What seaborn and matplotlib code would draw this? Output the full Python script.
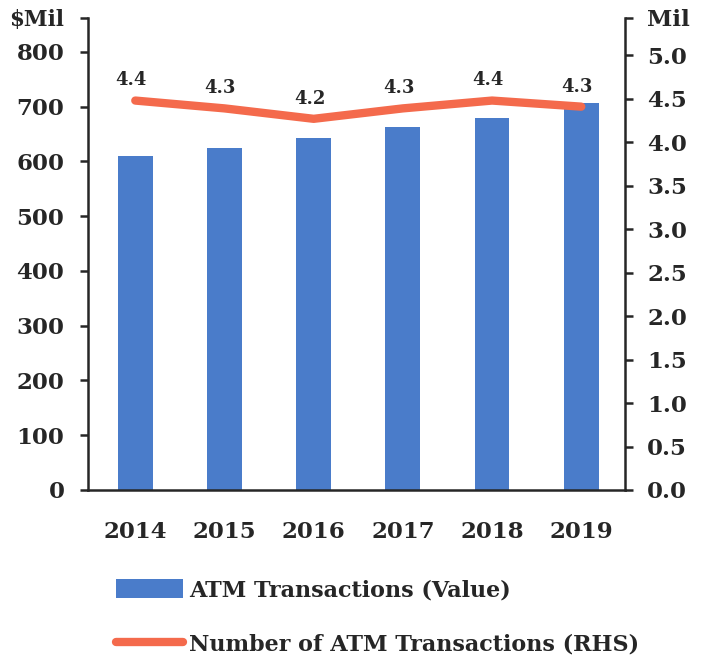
import numpy as np
import pandas as pd
import matplotlib
matplotlib.use('Agg')
import matplotlib.pyplot as plt
from matplotlib.patches import Patch
from matplotlib.lines import Line2D
from matplotlib.ticker import FixedLocator
import seaborn as sns

# Data
years = ['2014', '2015', '2016', '2017', '2018', '2019']
atm_value = [610, 625, 643, 663, 679, 707]          # $Mil, left axis
atm_count = [4.48, 4.39, 4.27, 4.39, 4.48, 4.41]    # Mil, right axis
count_labels = ['4.4', '4.3', '4.2', '4.3', '4.4', '4.3']

left_ticks = [0, 100, 200, 300, 400, 500, 600, 700, 800]
right_ticks = [0.0, 0.5, 1.0, 1.5, 2.0, 2.5, 3.0, 3.5, 4.0, 4.5, 5.0]

bar_color = '#4a7cca'
line_color = '#f46a4c'
ink = '#262626'

sns.set_style('white')
plt.rcParams['font.family'] = ['DejaVu Serif']
plt.rcParams['font.weight'] = 'bold'

df = pd.DataFrame({'year': years, 'value': atm_value, 'count': atm_count})

fig = plt.figure(figsize=(7.03, 6.61), dpi=100)
ax = fig.add_axes([0.1252, 0.2587, 0.889 - 0.1252, 0.9728 - 0.2587])

sns.barplot(data=df, x='year', y='value', color=bar_color, width=0.39,
            saturation=1, linewidth=0, ax=ax)

ax2 = ax.twinx()
sns.lineplot(x=np.arange(len(years)), y=df['count'], color=line_color,
             linewidth=6, ax=ax2, solid_capstyle='round')
for i, (v, lab) in enumerate(zip(atm_count, count_labels)):
    ax2.annotate(lab, (i, v), xytext=(-3, 14.5), textcoords='offset points',
                 ha='center', va='center', fontsize=13, fontweight='bold',
                 color=ink)

ax.set_xlim(-0.53, 5.49)
ax.set_ylim(0, 862)
ax2.set_ylim(0, 5.43)

ax.set_yticks(left_ticks + [862])
ax.set_yticklabels([str(t) for t in left_ticks] + ['$Mil'])
ax2.set_yticks(right_ticks + [5.43])
ax2.set_yticklabels([f'{t:.1f}' for t in right_ticks] + ['Mil'])

for a in (ax, ax2):
    for s in a.spines.values():
        s.set_linewidth(1.8)
        s.set_color(ink)
    a.spines['top'].set_visible(False)
    a.set_xlabel('')
    a.set_ylabel('')

ax.spines['right'].set_visible(False)
ax2.spines['left'].set_visible(False)
ax2.spines['bottom'].set_visible(False)

ax.tick_params(axis='y', direction='out', length=6, width=1.8, color=ink,
               pad=11, labelsize=16.5, labelcolor=ink)
ax2.tick_params(axis='y', direction='out', length=6, width=1.8, color=ink,
                pad=10, labelsize=16.5, labelcolor=ink)
ax.tick_params(axis='x', which='major', length=0, pad=22, labelsize=16.5,
               labelcolor=ink)
ax.xaxis.set_minor_locator(FixedLocator([0.5, 1.5, 2.5, 3.5, 4.5]))
ax.tick_params(axis='x', which='minor', direction='out', length=6, width=1.8,
               color=ink)
ax.tick_params(axis='both', bottom=True, left=True)
for lab in ax.get_xticklabels() + ax.get_yticklabels() + ax2.get_yticklabels():
    lab.set_fontweight('bold')
ax.get_yticklabels()[-1].set_fontsize(15.5)

handles = [Patch(facecolor=bar_color, edgecolor='none'),
           Line2D([0], [0], color=line_color, linewidth=6, solid_capstyle='round')]
fig.legend(handles, ['ATM Transactions (Value)', 'Number of ATM Transactions (RHS)'],
           loc='upper left', bbox_to_anchor=(0.165, 0.124), frameon=False,
           prop={'size': 16, 'weight': 'bold'}, labelcolor=ink,
           handlelength=3.0, handleheight=0.9, handletextpad=0.3,
           labelspacing=1.45, borderpad=0, borderaxespad=0)

fig.savefig('out.png', dpi=100)
